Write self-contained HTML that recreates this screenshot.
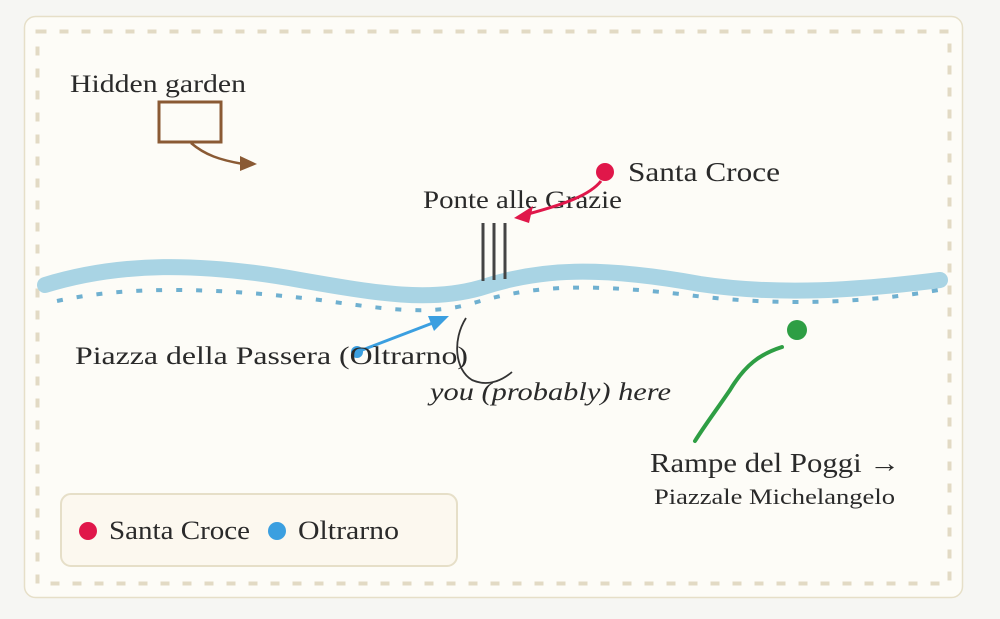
<!DOCTYPE html>
<html><head><style>
html,body{margin:0;padding:0;background:#f6f6f3;width:1000px;height:619px;overflow:hidden}
svg{display:block}
text{font-family:"Liberation Serif",serif;fill:#2a2a2a}
</style></head><body>
<svg width="1000" height="619" viewBox="0 0 1000 619">
<rect x="24.5" y="16.5" width="938" height="581" rx="11" fill="#fdfcf7" stroke="#e6dfc8" stroke-width="1.5"/>
<rect x="37.5" y="31.5" width="912" height="552" fill="none" stroke="#e2dac4" stroke-width="4" stroke-dasharray="9 13"/>
<path d="M45,285 C120,262 200,262 300,280 C380,294 430,302 480,288 C540,268 600,266 700,284 C780,296 860,290 940,280" fill="none" stroke="#a9d4e4" stroke-width="16" stroke-linecap="round"/>
<path d="M57,301 C130,285 220,288 320,300 C390,310 430,315 470,304 C530,286 580,283 680,294 C770,306 860,305 950,288" fill="none" stroke="#6fb0d0" stroke-width="4" stroke-dasharray="6 14"/>
<g stroke="#444" stroke-width="3"><line x1="483" y1="223" x2="483" y2="281"/><line x1="494" y1="223" x2="494" y2="280"/><line x1="505" y1="223" x2="505" y2="279"/></g>
<text x="70" y="92" font-size="25" textLength="176" lengthAdjust="spacingAndGlyphs">Hidden garden</text>
<rect x="159" y="102" width="62" height="40" fill="none" stroke="#8a5a34" stroke-width="3"/>
<path d="M191,143 C205,155 220,160 243,164" fill="none" stroke="#8a5a34" stroke-width="2.5"/>
<path d="M257,164 L240,156 L240,171 z" fill="#8a5a34"/>
<text x="423" y="208" font-size="25" textLength="199" lengthAdjust="spacingAndGlyphs">Ponte alle Grazie</text>
<circle cx="605" cy="172" r="9" fill="#e0174a"/>
<text x="628" y="181" font-size="27" textLength="152" lengthAdjust="spacingAndGlyphs">Santa Croce</text>
<path d="M601,181 C590,195 565,204 528,214" fill="none" stroke="#e0174a" stroke-width="3"/>
<path d="M514,218 L533,206 L529,223 z" fill="#e0174a"/>
<circle cx="357" cy="352" r="6" fill="#3b9fe0"/>
<path d="M357,352 L438,321" stroke="#3b9fe0" stroke-width="3" fill="none"/>
<path d="M449,316 L428,316 L434,331 z" fill="#3b9fe0"/>
<text x="75" y="364" font-size="25" textLength="393" lengthAdjust="spacingAndGlyphs">Piazza della Passera (Oltrarno)</text>
<path d="M466,318 C452,340 455,370 472,380 C490,388 505,378 512,372" fill="none" stroke="#333" stroke-width="1.8"/>
<text x="430" y="400" font-size="25" font-style="italic" textLength="241" lengthAdjust="spacingAndGlyphs">you (probably) here</text>
<circle cx="797" cy="330" r="10" fill="#2e9e44"/>
<path d="M782,347 C760,354 745,365 730,390 C715,412 705,425 695,441" fill="none" stroke="#2e9e44" stroke-width="4" stroke-linecap="round"/>
<text x="650" y="472" font-size="27" textLength="250" lengthAdjust="spacingAndGlyphs">Rampe del Poggi →</text>
<text x="654" y="504" font-size="22" textLength="241" lengthAdjust="spacingAndGlyphs">Piazzale Michelangelo</text>
<rect x="61" y="494" width="396" height="72" rx="10" fill="#fcf8ef" stroke="#e6dfc8" stroke-width="2"/>
<circle cx="88" cy="531" r="9" fill="#e0174a"/>
<text x="109" y="539" font-size="26" textLength="141" lengthAdjust="spacingAndGlyphs">Santa Croce</text>
<circle cx="277" cy="531" r="9" fill="#3b9fe0"/>
<text x="298" y="539" font-size="26" textLength="101" lengthAdjust="spacingAndGlyphs">Oltrarno</text>
</svg>
</body></html>
